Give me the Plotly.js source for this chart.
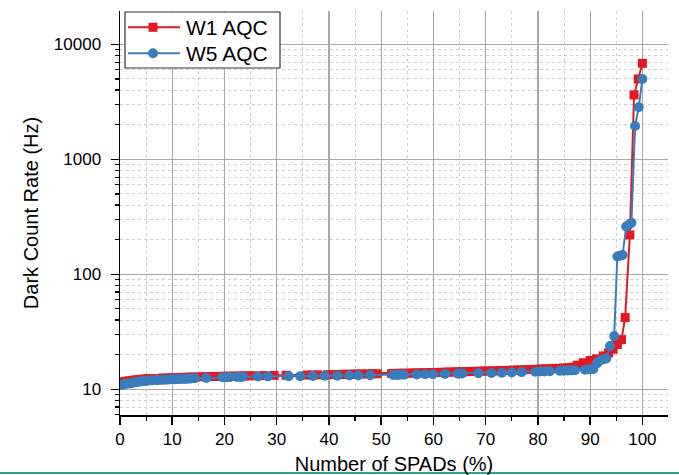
<!DOCTYPE html>
<html>
<head>
<meta charset="utf-8">
<script src="https://cdn.plot.ly/plotly-3.0.1.min.js"></script>
<style>html,body{margin:0;padding:0;background:#fff;}#chart{width:679px;height:475px;}</style>
</head>
<body>
<div id="chart"></div>
<script>
// W1 AQC (red squares)
const w1X = [0,0.6,1.2,1.8,2.4,3,3.6,4.2,4.8,5.4,6.2, 8,8.7,9.4,10.1,10.8,11.5,12.2,12.9,13.6,14.4, 15.8,16.6,17.4,18.2,19,19.8,20.6,21.4,22.2,23,23.8,24.6,25.6, 27.5,29.5,31.8, 35.8,36.8,37.8, 39.8,40.7,41.6,42.4, 43.2,44,44.8,45.6,46.3, 47.4,48.3,49.2, 52,52.8,53.6,54.4, 55.3,56.1,56.9,57.7,58.5,59.3,60.1,60.9,61.7,62.5,63.3,64.1,64.9,65.7,66.5, 67.3,68.1,68.9,69.7,70.5,71.3,72.1,72.9,73.7,74.5,75.3,76.1,76.9,77.7,78.5,79.3,80.1,80.9,81.7,82.5,83.3,84.1,84.9,85.7,86.5, 87.5,88.7,90,91.2,92.5,93.5,94.4,95.2,96,96.7,97.6,98.4,99.2,100];
const w1Y = [11.5,11.6,11.75,11.85,11.95,12.05,12.15,12.2,12.3,12.35,12.4, 12.5,12.5,12.55,12.6,12.6,12.65,12.7,12.7,12.75,12.8, 12.85,12.85,12.9,12.9,12.95,12.95,13.0,13.0,13.0,13.05,13.05,13.1,13.1, 13.15,13.2,13.25, 13.3,13.3,13.35, 13.4,13.4,13.45,13.45, 13.5,13.5,13.55,13.55,13.6, 13.6,13.65,13.65, 13.7,13.75,13.75,13.8, 13.8,13.85,13.85,13.9,13.9,13.95,14.0,14.0,14.05,14.1,14.1,14.15,14.2,14.2,14.25, 14.3,14.3,14.35,14.4,14.4,14.45,14.5,14.5,14.55,14.6,14.65,14.7,14.75,14.8,14.85,14.9,14.95,15.0,15.05,15.1,15.15,15.2,15.3,15.4,15.5, 16.2,17.0,17.8,18.4,19.5,20.7,22.3,24.5,27,42,220,3630,5000,6840];

// W5 AQC (blue circles)
const w5X = [0,0.5,1,1.5,2,2.5,3,3.5,4,4.5,5,5.5,6.1, 7,7.6,8.2,8.8,9.4,10,10.6,11.2,11.8,12.4,13,13.6,14.3, 16.5, 19.6,20.3,21, 22.4,23,23.5, 26.4,28.3, 32.3,34.5,36.9,39.2,41.6,43.9,45.6,47.9, 52.3,53,53.6,54.3, 56.8,58.4,59.9,62.2, 64.7,65.5, 68.6,71.1,73.1,75,76.9, 79.5,80.4,81.3,82.3, 84.2,85,85.7,86.4,87.1, 89,89.8,90.6, 91.3,91.9,92.5,93.1, 93.8,94.6, 95.2,95.7,96.2, 96.9,97.4,97.9, 98.6,99.3,100];
const w5Y = [10.9,11.0,11.1,11.2,11.3,11.4,11.5,11.6,11.7,11.75,11.8,11.9,11.95, 12.0,12.05,12.1,12.1,12.15,12.2,12.2,12.25,12.3,12.3,12.35,12.4,12.45, 12.55, 12.7,12.7,12.75, 12.8,12.8,12.85, 12.9,12.95, 13.0,13.0,13.05,13.1,13.1,13.15,13.2,13.25, 13.3,13.3,13.35,13.35, 13.45,13.5,13.5,13.6, 13.65,13.7, 13.8,13.85,13.95,14.0,14.1, 14.2,14.25,14.3,14.35, 14.45,14.5,14.55,14.6,14.65, 14.8,14.9,15.0, 16.8,17.8,18.2,18.5, 23.8,29, 143,145,147, 260,270,280, 1950,2840,5000];

const seriesNames = ['W1 AQC', 'W5 AQC'];
const yTickVals = [10, 100, 1000, 10000];
const yTickText = ['10', '100', '1000', '10000'];

const RED = '#e3191f', BLUE = '#3a7dbd';
const FONT = 'Liberation Sans, Arial, sans-serif';

const traces = [
  {x: w1X, y: w1Y, name: seriesNames[0], type: 'scatter', mode: 'lines+markers',
   line: {color: RED, width: 2}, marker: {symbol: 'square', size: 9, color: RED}},
  {x: w5X, y: w5Y, name: seriesNames[1], type: 'scatter', mode: 'lines+markers',
   line: {color: BLUE, width: 2}, marker: {symbol: 'circle', size: 10, color: BLUE}}
];

// Legend drawn as paper-anchored decorations (tight spacing like the original)
const PW = 548, PH = 404; // plot area size in px
const px = v => v / PW, py = v => v / PH;
const rows = [{y: 0.9597, color: RED, sym: 'square', name: seriesNames[0]},
              {y: 0.8953, color: BLUE, sym: 'circle', name: seriesNames[1]}];
const legShapes = [
  {type: 'rect', xref: 'paper', yref: 'paper', x0: px(5), x1: px(160), y0: 0.8589, y1: 0.9975,
   fillcolor: '#fff', line: {color: '#333', width: 1.2}, layer: 'above'}
];
const legAnn = [];
rows.forEach(r => {
  legShapes.push({type: 'line', xref: 'paper', yref: 'paper', x0: px(8), x1: px(60), y0: r.y, y1: r.y,
                  line: {color: r.color, width: 2}, layer: 'above'});
  const cx = px(33), hx = px(r.sym === 'square' ? 4.5 : 5), hy = py(r.sym === 'square' ? 4.5 : 5);
  legShapes.push({type: r.sym === 'square' ? 'rect' : 'circle', xref: 'paper', yref: 'paper',
                  x0: cx - hx, x1: cx + hx, y0: r.y - hy, y1: r.y + hy,
                  fillcolor: r.color, line: {color: r.color, width: 0}, layer: 'above'});
  legAnn.push({xref: 'paper', yref: 'paper', x: px(64), y: r.y, xanchor: 'left', yanchor: 'middle',
               text: r.name, showarrow: false, font: {family: FONT, size: 21, color: '#000'}});
});

const layout = {
  width: 679, height: 475,
  margin: {l: 120, r: 11, t: 11, b: 60},
  paper_bgcolor: '#fff', plot_bgcolor: '#fff',
  font: {family: FONT, color: '#000', size: 17},
  showlegend: false,
  xaxis: {
    range: [0, 104.9], dtick: 10, tick0: 0,
    showline: true, linecolor: '#000', linewidth: 1.5,
    ticks: 'outside', ticklen: 8, tickwidth: 1.5, tickcolor: '#000',
    showgrid: true, gridcolor: '#a8a8a8', gridwidth: 1.3,
    zeroline: false, mirror: false,
    minor: {dtick: 5, ticks: 'outside', ticklen: 4, tickcolor: '#000', tickwidth: 1.2,
            showgrid: true, gridcolor: '#cfcfcf', griddash: 'dot', gridwidth: 1},
    tickfont: {family: FONT, size: 17, color: '#000'},
    title: {text: 'Number of SPADs (%)', font: {family: FONT, size: 20, color: '#000'}, standoff: 12}
  },
  yaxis: {
    type: 'log', range: [0.776, 4.29],
    tickvals: yTickVals, ticktext: yTickText,
    showline: true, linecolor: '#000', linewidth: 1.5,
    ticks: 'outside', ticklen: 8, tickwidth: 1.5, tickcolor: '#000',
    ticklabelstandoff: 6,
    showgrid: true, gridcolor: '#a8a8a8', gridwidth: 1.3,
    zeroline: false,
    minor: {dtick: 'D1', ticks: 'outside', ticklen: 4, tickcolor: '#000', tickwidth: 1.2,
            showgrid: true, gridcolor: '#cfcfcf', griddash: 'dot', gridwidth: 1},
    tickfont: {family: FONT, size: 17, color: '#000'},
    title: {text: 'Dark Count Rate (Hz)', font: {family: FONT, size: 20, color: '#000'}, standoff: 10}
  },
  shapes: legShapes.concat([
    {type: 'line', xref: 'paper', yref: 'paper', x0: -0.22, x1: 1.03, y0: -0.1436, y1: -0.1436,
     line: {color: '#35a383', width: 2}}
  ]),
  annotations: legAnn
};

Plotly.newPlot('chart', traces, layout, {displayModeBar: false, staticPlot: true});
</script>
</body>
</html>
